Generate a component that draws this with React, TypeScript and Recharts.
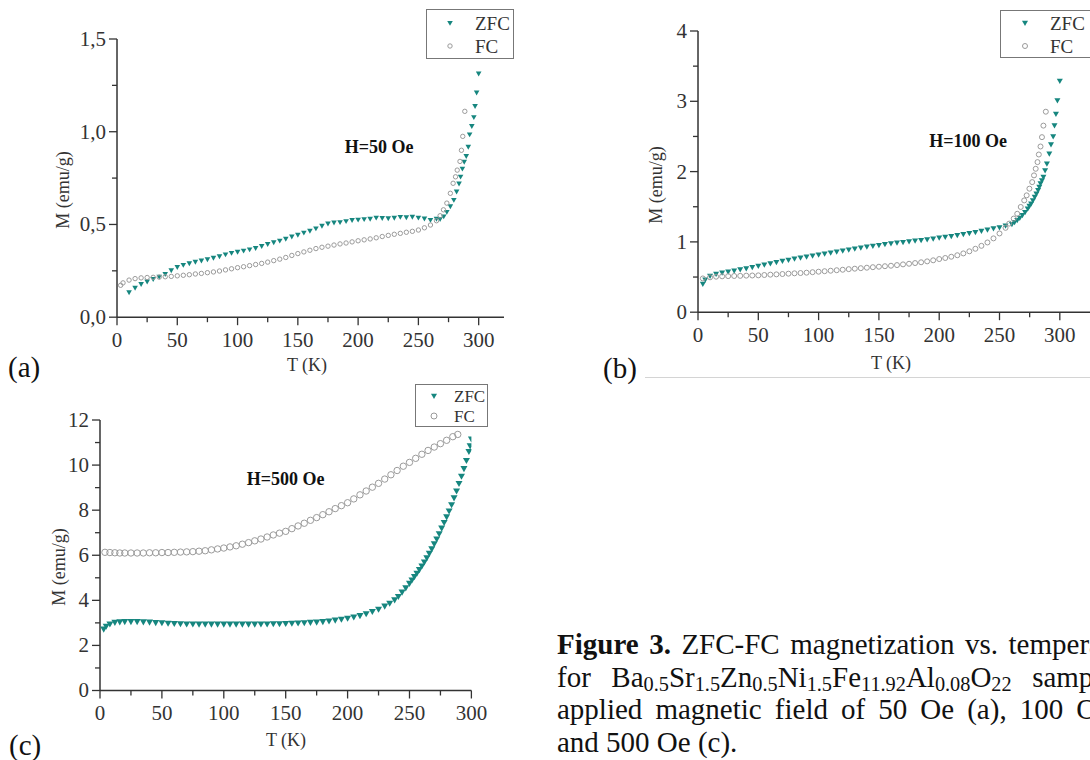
import React from "react";
import { ScatterChart, Scatter, XAxis, YAxis } from "recharts";

type Pt = [number, number];

// T (K) vs M (emu/g)
const zfcA: Pt[] = [[10,0.134],[15,0.158],[20,0.178],[25,0.192],[30,0.205],[35,0.218],[40,0.232],[45,0.252],[50,0.27],[55,0.281],[60,0.29],[65,0.298],[70,0.305],[75,0.312],[80,0.32],[85,0.328],[90,0.338],[95,0.346],[100,0.352],[105,0.358],[110,0.365],[115,0.372],[120,0.383],[125,0.394],[130,0.403],[135,0.412],[140,0.422],[145,0.434],[150,0.444],[155,0.455],[160,0.465],[165,0.478],[170,0.492],[175,0.504],[180,0.51],[185,0.512],[190,0.517],[195,0.523],[200,0.525],[205,0.528],[210,0.53],[215,0.536],[220,0.534],[225,0.533],[230,0.535],[235,0.54],[240,0.538],[245,0.541],[250,0.536],[255,0.531],[260,0.524],[265,0.53],[268,0.529],[271,0.543],[273.6,0.567],[276.5,0.597],[279.4,0.632],[281.7,0.677],[283.7,0.72],[285,0.757],[286.5,0.8],[288,0.837],[289.7,0.868],[291.4,0.918],[292.5,0.985],[294.3,1.03],[296,1.078],[297,1.138],[298.3,1.211],[300,1.313]];
const fcA: Pt[] = [[3,0.172],[5,0.185],[10,0.2],[15,0.208],[20,0.212],[25,0.214],[30,0.215],[35,0.216],[40,0.218],[45,0.22],[50,0.223],[55,0.226],[60,0.229],[65,0.233],[70,0.236],[75,0.24],[80,0.244],[85,0.249],[90,0.255],[95,0.261],[100,0.267],[105,0.272],[110,0.278],[115,0.284],[120,0.29],[125,0.297],[130,0.305],[135,0.313],[140,0.322],[145,0.333],[150,0.343],[155,0.352],[160,0.361],[165,0.37],[170,0.377],[175,0.383],[180,0.389],[185,0.395],[190,0.4],[195,0.406],[200,0.412],[205,0.417],[210,0.422],[215,0.428],[220,0.435],[225,0.441],[230,0.447],[235,0.452],[240,0.458],[245,0.463],[250,0.47],[255,0.482],[260,0.497],[265,0.52],[268,0.547],[270.8,0.579],[273.6,0.615],[276.5,0.668],[278.8,0.722],[280.8,0.757],[282.2,0.793],[284.5,0.84],[285.7,0.9],[286.8,0.975],[288.5,1.11]];

const zfcB: Pt[] = [[4,0.4],[6,0.46],[10,0.515],[15,0.543],[20,0.562],[25,0.576],[30,0.59],[35,0.606],[40,0.623],[45,0.64],[50,0.656],[55,0.675],[60,0.694],[65,0.71],[70,0.727],[75,0.744],[80,0.76],[85,0.775],[90,0.789],[95,0.803],[100,0.817],[105,0.831],[110,0.845],[115,0.86],[120,0.874],[125,0.888],[130,0.902],[135,0.916],[140,0.93],[145,0.942],[150,0.954],[155,0.966],[160,0.978],[165,0.987],[170,0.996],[175,1.006],[180,1.015],[185,1.025],[190,1.034],[195,1.046],[200,1.058],[205,1.07],[210,1.081],[215,1.095],[220,1.11],[225,1.124],[230,1.138],[235,1.155],[240,1.172],[245,1.19],[250,1.205],[255,1.228],[260.3,1.25],[262.5,1.28],[264.7,1.308],[266.8,1.34],[269,1.379],[271.2,1.42],[273.4,1.473],[274.8,1.51],[276.2,1.544],[277.7,1.59],[279.2,1.64],[280.6,1.685],[282,1.733],[283,1.78],[284,1.83],[285.2,1.875],[286.4,1.922],[287.8,2.017],[289.3,2.11],[291.3,2.253],[292.7,2.385],[294.5,2.5],[295.6,2.654],[296.8,2.82],[298,3.01],[300,3.29]];
const fcB: Pt[] = [[4,0.48],[10,0.496],[15,0.505],[20,0.51],[25,0.513],[30,0.515],[35,0.517],[40,0.52],[45,0.522],[50,0.524],[55,0.529],[60,0.534],[65,0.538],[70,0.543],[75,0.548],[80,0.553],[85,0.557],[90,0.562],[95,0.569],[100,0.576],[105,0.583],[110,0.59],[115,0.597],[120,0.604],[125,0.612],[130,0.619],[135,0.626],[140,0.633],[145,0.64],[150,0.647],[155,0.654],[160,0.661],[165,0.67],[170,0.68],[175,0.689],[180,0.699],[185,0.71],[190,0.723],[195,0.738],[200,0.756],[205,0.771],[210,0.789],[215,0.81],[220,0.836],[225,0.866],[230,0.902],[235,0.944],[240,0.992],[245,1.05],[250,1.12],[255,1.2],[258,1.26],[261.8,1.332],[264.7,1.4],[267.6,1.497],[270.5,1.59],[272.5,1.662],[274.8,1.757],[277.1,1.85],[278.6,1.946],[280,2.04],[281.5,2.135],[282.6,2.243],[284,2.357],[285.2,2.49],[286.4,2.654],[288.4,2.852]];

const zfcC: Pt[] = [[3,2.72],[5,2.85],[8,2.95],[12,3.02],[16,3.04],[20,3.05],[25,3.05],[30,3.05],[35,3.04],[40,3.03],[45,3.01],[50,3],[55,2.98],[60,2.97],[65,2.96],[70,2.95],[75,2.95],[80,2.94],[85,2.94],[90,2.94],[95,2.94],[100,2.94],[105,2.94],[110,2.94],[115,2.94],[120,2.94],[125,2.94],[130,2.95],[135,2.95],[140,2.96],[145,2.96],[150,2.97],[155,2.98],[160,2.99],[165,3],[170,3.02],[175,3.03],[180,3.05],[185,3.08],[190,3.12],[195,3.16],[200,3.2],[205,3.26],[210,3.32],[215,3.4],[220,3.5],[225,3.6],[230,3.74],[234,3.87],[238,4.02],[241,4.17],[244,4.36],[247,4.55],[250,4.75],[252,4.9],[254,5.05],[256,5.2],[258,5.36],[260,5.52],[262,5.7],[264,5.88],[266,6.08],[268,6.28],[270,6.5],[272,6.72],[274,6.95],[276,7.2],[278,7.45],[280,7.7],[282,7.96],[284,8.24],[286,8.54],[288,8.85],[290,9.18],[292,9.5],[294,9.84],[296,10.2],[298,10.6],[299,10.85],[300,11.15]];
const fcC: Pt[] = [[4,6.13],[8,6.12],[12,6.11],[16,6.1],[20,6.1],[25,6.1],[30,6.1],[35,6.1],[40,6.11],[45,6.11],[50,6.12],[55,6.12],[60,6.13],[65,6.14],[70,6.15],[75,6.16],[80,6.18],[85,6.2],[90,6.24],[95,6.28],[100,6.32],[105,6.37],[110,6.42],[115,6.49],[120,6.56],[125,6.64],[130,6.72],[135,6.81],[140,6.9],[145,6.98],[150,7.06],[155,7.18],[160,7.3],[165,7.42],[170,7.55],[175,7.67],[180,7.8],[185,7.93],[190,8.07],[195,8.2],[200,8.33],[205,8.5],[210,8.68],[215,8.85],[220,9.02],[225,9.19],[230,9.38],[235,9.57],[240,9.76],[245,9.95],[250,10.12],[255,10.3],[260,10.48],[265,10.65],[270,10.8],[275,10.95],[280,11.1],[285,11.26],[289,11.36]];

const tMajor = [0, 50, 100, 150, 200, 250, 300];
const tMinor = [25, 75, 125, 175, 225, 275];
const mMajorA = [0, 0.5, 1, 1.5];
const mMinorA = [0.25, 0.75, 1.25];
const mMajorB = [0, 1, 2, 3, 4];
const mMinorB = [0.5, 1.5, 2.5, 3.5];
const mMajorC = [0, 2, 4, 6, 8, 10, 12];
const mMinorC = [1, 3, 5, 7, 9, 11];

const TEAL = "#16867f";
const GRAY = "#9a9a9a";
const INK = "#333";
const FONT = '"Liberation Serif", "Times New Roman", serif';

const comma = (v: number) => v.toFixed(1).replace(".", ",");
const plain = (v: number) => String(v);
const toRows = (pts: Pt[]) => pts.map(([t, m]) => ({ t, m }));

function BottomTick(props: any) {
  const { x, y, payload } = props;
  const major = tMajor.includes(payload.value);
  return (
    <g>
      <line x1={x} y1={y} x2={x} y2={y + (major ? 8 : 5)} stroke={INK} strokeWidth={1.3} />
      {major && (
        <text x={x} y={y + 23} textAnchor="middle" dominantBaseline="central" fontSize={21} fill={INK} fontFamily={FONT}>
          {payload.value}
        </text>
      )}
    </g>
  );
}

function LeftTick(props: any) {
  const { x, y, payload, majors, fmt } = props;
  const major = majors.includes(payload.value);
  return (
    <g>
      <line x1={x} y1={y} x2={x - (major ? 8 : 5)} y2={y} stroke={INK} strokeWidth={1.3} />
      {major && (
        <text x={x - 11} y={y} textAnchor="end" dominantBaseline="central" fontSize={21} fill={INK} fontFamily={FONT}>
          {fmt(payload.value)}
        </text>
      )}
    </g>
  );
}

const triangle = (s: number) => (p: any) => (
  <path d={`M${p.cx - s},${p.cy - s * 0.75}L${p.cx + s},${p.cy - s * 0.75}L${p.cx},${p.cy + s}Z`} fill={TEAL} />
);
const ring = (r: number) => (p: any) => (
  <circle cx={p.cx} cy={p.cy} r={r} fill="none" stroke={GRAY} strokeWidth={1} />
);

const TOP = 20;

function Panel(p: {
  left: number; top: number; w: number; h: number; xMax: number; yMax: number;
  yMajor: number[]; yMinor: number[]; fmt: (v: number) => string;
  zfc: Pt[]; fc: Pt[]; tri: number; rad: number;
}) {
  const yTicks = [...p.yMajor, ...p.yMinor].sort((a, b) => a - b);
  const xTicks = [...tMajor, ...tMinor].sort((a, b) => a - b);
  return (
    <div style={{ position: "absolute", left: p.left - 80, top: p.top - TOP }}>
      <ScatterChart width={p.w + 110} height={p.h + 40 + TOP} margin={{ top: TOP, right: 30, bottom: 0, left: 0 }}>
        <XAxis type="number" dataKey="t" domain={[0, p.xMax]} ticks={xTicks} height={40}
          allowDataOverflow interval={0} tickSize={0} tickMargin={0} tickLine={false}
          axisLine={{ stroke: INK, strokeWidth: 1.5 }} tick={(tp: any) => <BottomTick {...tp} />} />
        <YAxis type="number" dataKey="m" domain={[0, p.yMax]} ticks={yTicks} width={80}
          allowDataOverflow interval={0} tickSize={0} tickMargin={0} tickLine={false}
          axisLine={{ stroke: INK, strokeWidth: 1.5 }}
          tick={(tp: any) => <LeftTick {...tp} majors={p.yMajor} fmt={p.fmt} />} />
        <Scatter name="ZFC" data={toRows(p.zfc)} shape={triangle(p.tri)} isAnimationActive={false} />
        <Scatter name="FC" data={toRows(p.fc)} shape={ring(p.rad)} isAnimationActive={false} />
      </ScatterChart>
    </div>
  );
}

// legend box; marker/text coordinates are relative to the box
function LegendBox(p: { left: number; top: number; w: number; h: number; mx: number; tx: number; y1: number; y2: number; fs: number; tri: number; rad: number }) {
  return (
    <div style={{ position: "absolute", left: p.left, top: p.top, width: p.w, height: p.h, border: "1.2px solid #777", boxSizing: "border-box", background: "#fff" }}>
      <svg width={p.w + 40} height={p.h} style={{ position: "absolute", left: -1, top: -1 }}>
        <path d={`M${p.mx - p.tri},${p.y1 - p.tri * 0.75}L${p.mx + p.tri},${p.y1 - p.tri * 0.75}L${p.mx},${p.y1 + p.tri}Z`} fill={TEAL} />
        <circle cx={p.mx} cy={p.y2} r={p.rad} fill="none" stroke={GRAY} strokeWidth={1} />
        <text x={p.tx} y={p.y1} dominantBaseline="central" fontSize={p.fs} fill={INK} fontFamily={FONT}>ZFC</text>
        <text x={p.tx} y={p.y2} dominantBaseline="central" fontSize={p.fs} fill={INK} fontFamily={FONT}>FC</text>
      </svg>
    </div>
  );
}

const abs = (left: number, top: number, extra: React.CSSProperties = {}): React.CSSProperties => ({
  position: "absolute", left, top, whiteSpace: "nowrap", ...extra,
});

function Centered({ x, y, children, size, bold, rotate }: { x: number; y: number; children: React.ReactNode; size: number; bold?: boolean; rotate?: boolean }) {
  return (
    <div style={abs(x, y, {
      transform: `translate(-50%, -50%)${rotate ? " rotate(-90deg)" : ""}`,
      fontSize: size, fontWeight: bold ? "bold" : "normal", color: bold ? "#111" : INK, lineHeight: 1,
    })}>
      {children}
    </div>
  );
}

const sub = (s: string) => (
  <sub style={{ fontSize: "0.7em", verticalAlign: "-0.18em", lineHeight: 0 }}>{s}</sub>
);

const lineStyle = (i: number, width: number | null): React.CSSProperties => ({
  position: "absolute", left: 557, top: 628 + i * 32.7, width: width ?? 600, height: 32.7,
  lineHeight: "32.7px", fontSize: 29, color: "#111",
  whiteSpace: width ? "normal" : "nowrap",
  textAlign: width ? "justify" : "left", textAlignLast: width ? "justify" : "left",
});

export default function App() {
  return (
    <div style={{ position: "absolute", left: 0, top: 0, width: 1090, height: 760, overflow: "hidden", background: "#fff", fontFamily: FONT }}>
      <Panel left={117} top={38.5} w={387} h={278.2} xMax={321} yMax={1.5} yMajor={mMajorA} yMinor={mMinorA} fmt={comma} zfc={zfcA} fc={fcA} tri={2.8} rad={2.2} />
      <Panel left={698} top={30.5} w={398} h={281.2} xMax={330} yMax={4} yMajor={mMajorB} yMinor={mMinorB} fmt={plain} zfc={zfcB} fc={fcB} tri={3} rad={2.5} />
      <Panel left={100.3} top={420} w={371.4} h={270.5} xMax={300} yMax={12} yMajor={mMajorC} yMinor={mMinorC} fmt={plain} zfc={zfcC} fc={fcC} tri={3.5} rad={3.2} />

      <LegendBox left={426} top={9} w={88} h={50} mx={24} tx={49} y1={14} y2={37} fs={19} tri={2.8} rad={2.2} />
      <LegendBox left={1000} top={10} w={120} h={48} mx={25} tx={50} y1={13} y2={36} fs={19} tri={3} rad={2.5} />
      <LegendBox left={415} top={384} w={73} h={43} mx={19} tx={39} y1={12} y2={32} fs={17} tri={3} rad={3} />

      <Centered x={379} y={147} size={18} bold>H=50 Oe</Centered>
      <Centered x={968} y={141} size={18} bold>H=100 Oe</Centered>
      <Centered x={285.5} y={479} size={18} bold>H=500 Oe</Centered>

      <Centered x={63} y={190} size={18} rotate>M (emu/g)</Centered>
      <Centered x={307} y={365} size={18}>T (K)</Centered>
      <Centered x={656} y={185} size={18} rotate>M (emu/g)</Centered>
      <Centered x={891} y={363} size={18}>T (K)</Centered>
      <Centered x={58.5} y={567} size={18} rotate>M (emu/g)</Centered>
      <Centered x={286} y={740} size={18}>T (K)</Centered>

      <div style={abs(8, 351, { fontSize: 29, color: "#111", lineHeight: "32px" })}>(a)</div>
      <div style={abs(603, 352, { fontSize: 29, color: "#111", lineHeight: "32px" })}>(b)</div>
      <div style={abs(9, 729, { fontSize: 29, color: "#111", lineHeight: "32px" })}>(c)</div>
      <div style={{ position: "absolute", left: 645, top: 377, width: 445, height: 1, background: "#d4d4d4" }} />

      <div style={lineStyle(0, 590)}><b>Figure 3.</b> ZFC-FC magnetization vs. temperature</div>
      <div style={lineStyle(1, 610)}>
        for Ba{sub("0.5")}Sr{sub("1.5")}Zn{sub("0.5")}Ni{sub("1.5")}Fe{sub("11.92")}Al{sub("0.08")}O{sub("22")} samples at
      </div>
      <div style={lineStyle(2, 600)}>applied magnetic field of 50 Oe (a), 100 Oe (b)</div>
      <div style={lineStyle(3, null)}>and 500 Oe (c).</div>
    </div>
  );
}
